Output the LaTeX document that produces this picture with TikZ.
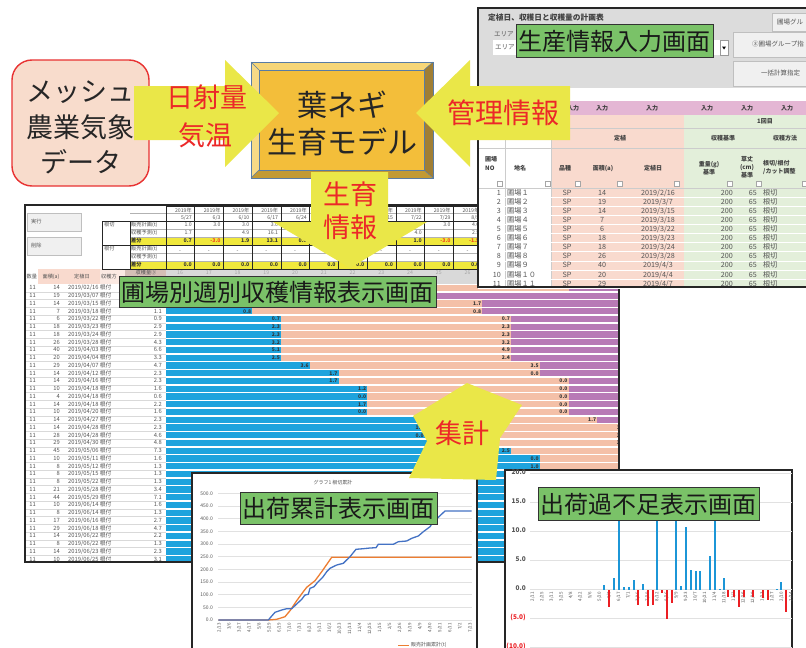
\documentclass[tikz,border=0pt]{standalone}
\usepackage{fontspec}
\setmainfont{Noto Sans CJK JP}
\definecolor{arrowyellow}{RGB}{234,231,72}
\definecolor{labelred}{RGB}{236,40,40}
\definecolor{labelgreen}{RGB}{122,194,104}
\definecolor{peach}{RGB}{248,220,204}
\definecolor{boxred}{RGB}{232,50,50}
\definecolor{goldmid}{RGB}{243,190,58}
\definecolor{goldlight}{RGB}{246,214,120}
\definecolor{golddark}{RGB}{160,126,52}
\definecolor{goldbottom}{RGB}{194,154,52}
\definecolor{bevelblue}{RGB}{88,124,164}
\definecolor{barblue}{RGB}{30,163,221}
\definecolor{barsalmon}{RGB}{244,192,168}
\definecolor{barpurple}{RGB}{184,122,182}
\definecolor{cellyellow}{RGB}{240,232,60}
\definecolor{cellgray}{RGB}{217,217,217}
\definecolor{ingray}{RGB}{220,220,220}
\definecolor{cellpink}{RGB}{249,218,206}
\definecolor{cellgreen}{RGB}{227,239,218}
\definecolor{headmauve}{RGB}{228,182,212}
\definecolor{txtgray}{RGB}{85,85,85}
\definecolor{gridgray}{RGB}{225,225,225}
\definecolor{lineblue}{RGB}{68,114,196}
\definecolor{lineorange}{RGB}{237,125,49}
\definecolor{chartblue}{RGB}{28,150,215}
\definecolor{chartred}{RGB}{235,30,35}
\definecolor{negred}{RGB}{240,70,30}
\begin{document}
\begin{tikzpicture}[x=1pt,y=-1pt,
  scr/.style={draw=black!85, line width=1.1pt},
  glabel/.style={draw=black!80, line width=0.9pt, fill=labelgreen, inner sep=0pt, text=black!90, font=\fontsize{24}{24}\selectfont, anchor=north west},
  redtext/.style={text=labelred, font=\fontsize{27}{27}\selectfont, inner sep=0pt},
  bigtext/.style={text=black!85, font=\fontsize{27}{27}\selectfont, inner sep=0pt},
  cell/.style={font=\fontsize{5.2}{5.2}\selectfont, text=txtgray, inner sep=0pt, text height=4.2pt, text depth=0.6pt},
  cellb/.style={font=\fontsize{5.2}{5.2}\selectfont\bfseries, text=black!80, inner sep=0pt, text height=4.2pt, text depth=0.6pt},
  rowtxt/.style={font=\fontsize{5.8}{5.8}\selectfont, text=txtgray, inner sep=0pt, text height=4.6pt, text depth=0.7pt},
  barlbl/.style={font=\fontsize{5}{5}\selectfont\bfseries, text=black!80, inner sep=0pt, anchor=east, text height=4pt, text depth=0.5pt},
  intxt/.style={font=\fontsize{7.2}{7.2}\selectfont, text=txtgray, inner sep=0pt, text height=5.8pt, text depth=0.9pt},
  inhead/.style={font=\fontsize{6}{6}\selectfont\bfseries, text=black!75, inner sep=0pt, text height=4.8pt, text depth=0.8pt},
  axlbl/.style={font=\fontsize{5}{5}\selectfont, text=txtgray, inner sep=0pt, text height=4pt, text depth=0.6pt},
  btn/.style={fill=black!6, draw=black!25, line width=0.5pt}]
\useasboundingbox (0,0) rectangle (806,648);
\clip (0,0) rectangle (806,648);
\fill[white] (0,0) rectangle (806,648);

%%%%%%%% weekly table screen
\fill[white] (25,205) rectangle (619,562);
\filldraw[btn] (27,213) rectangle (81,231);
\node[cell, anchor=west, name=btnrun] at (31,222) {実行};
\filldraw[btn] (27,237) rectangle (81,255);
\node[cell, anchor=west, name=btndel] at (31,246) {削除};
\fill[cellyellow] (130,237) rectangle (619,245);
\fill[cellyellow] (130,261) rectangle (619,269);
\fill[cellgray] (166,269) rectangle (619,284);
\fill[cellpink] (38,269) rectangle (100,284);
\fill[cellpink!60] (100,269) rectangle (125,284);
\fill[cellpink!70!gray] (125,269) rectangle (166,284);
\foreach \y in {213.5,229,237,253,261} \draw[black!30, line width=0.3pt] (130,\y) -- (619,\y);
\foreach \i in {0,...,16} \draw[black!85, line width=0.8pt] (166+28.75*\i,206) -- (166+28.75*\i,269);
\draw[black!85, line width=0.8pt] (166,206) -- (619,206);
\foreach \y in {221,245,269} \draw[black!85, line width=0.8pt] (102,\y) -- (619,\y);
\draw[black!85, line width=0.8pt] (102,221) -- (102,269);
\draw[black!85, line width=0.8pt] (130,221) -- (130,269);
\node[cell, anchor=west, name=rk1] at (104,225) {根切};
\node[cell, anchor=west, name=rk2] at (104,249) {根付};
\foreach \y/\t [count=\j] in {225/販売計画(t),233/収穫予測(t),249/販売計画(t),257/収穫予測(t)}
  \node[cell, anchor=west, name=rl\j] at (131,\y) {\t};
\node[cellb, anchor=west, name=rd1] at (131,241) {差分};
\node[cellb, anchor=west, name=rd2] at (131,265) {差分};
\foreach \m/\d [count=\i from 0] in {5/27,6/3,6/10,6/17,6/24,7/1,7/8,7/15,7/22,7/29,8/5} {
  \pgfmathtruncatemacro\hide{(\i==5 || \i==6) ? 1 : 0}
  \ifnum\hide=0
  \node[cell, anchor=east, name=yr\i] at (166+28.75*\i+26,210.2) {2019年};
  \node[cell, anchor=east, name=dt\i] at (166+28.75*\i+26,217.5) {\m/\d};
  \fi
}
\foreach \pa/\pb/\pd/\pc [count=\i from 0] in {1.0/1.7/0.7/black!80, 3.0//-3.0/negred, 3.0/4.9/1.9/black!80, 3.0/16.1/13.1/black!80, 3.0/3.6/0.6/black!80, 3.0/4.2/1.2/black!80, 3.0/5.1/2.1/black!80, 3.0/1.5/-1.5/negred, 3.0/4.0/1.0/black!80, 3.0//-3.0/negred, 4.0/2.5/-1.5/negred} {
  \pgfmathtruncatemacro\hide{(\i>=4 && \i<=7) ? 1 : 0}
  \ifnum\hide=0
  \node[cell, anchor=east, name=pa\i] at (166+28.75*\i+26,225) {\pa};
  \node[cell, anchor=east, name=pb\i] at (166+28.75*\i+26,233) {\pb};
  \fi
  \pgfmathtruncatemacro\hidd{(\i>=5 && \i<=6) ? 1 : 0}
  \ifnum\hidd=0
  \node[cellb, anchor=east, text=\pc, name=pd\i] at (166+28.75*\i+26,241) {\pd};
  \node[cell, name=pm\i] at (166+28.75*\i+14,250.5) {-};
  \fi
  \node[cellb, anchor=east, name=pz\i] at (166+28.75*\i+26,265) {0.0};
  \node[cell, text=black!35, name=wk\i] at (166+28.75*\i+14,272.5) {\the\numexpr16+\i\relax};
}
\node[cell, anchor=west, name=hq] at (26.5,277) {数量};
\node[cell, name=ha] at (51,277) {面積(a)};
\node[cell, name=hd] at (82,277) {定植日};
\node[cell, anchor=west, name=hm] at (101,277) {収穫方};
\node[cell, name=hy] at (146,272.5) {収穫量③};
% left data rows
\begin{scope}
\clip (25,284) rectangle (619,562);
\foreach \ar/\mo/\dy/\v [count=\k from 0] in {14/02/16/,19/03/07/,14/03/15/,7/03/18/1.1,6/03/22/0.9,18/03/23/2.9,18/03/24/2.9,26/03/28/4.3,40/04/03/6.6,20/04/04/3.3,29/04/07/4.7,14/04/12/2.3,14/04/16/2.3,10/04/18/1.6,4/04/18/0.6,14/04/18/2.2,10/04/20/1.6,14/04/27/2.3,14/04/28/2.3,28/04/28/4.6,29/04/30/4.8,45/05/06/7.3,10/05/11/1.6,8/05/12/1.3,8/05/15/1.3,8/05/22/1.3,21/05/28/3.4,44/05/29/7.1,10/06/14/1.6,8/06/14/1.3,17/06/16/2.7,29/06/18/4.7,14/06/22/2.2,8/06/22/1.3,14/06/23/2.3,10/06/25/3.1} {
  \node[rowtxt, name=rn\k] at (32.5,288+7.75*\k) {11};
  \node[rowtxt, anchor=east, name=ra\k] at (60,288+7.75*\k) {\ar};
  \node[rowtxt, anchor=west, name=rdt\k] at (68,288+7.75*\k) {2019/\mo/\dy\ 根付};
  \node[rowtxt, anchor=east, name=rv\k] at (162,288+7.75*\k) {\v};
  \draw[black!15, line width=0.4pt] (25,288+7.75*\k+3.9) -- (166,288+7.75*\k+3.9);
}
\foreach \b/\s [count=\k from 0] in {9/14,8/9,3/11,3/11,4/12,4/12,4/12,4/12,4/12,4/12,5/13,6/13,6/14,7/14,7/14,7/14,7/14,9/15,9/16,9/16,10/16,12/17,13/17,13/17,17/17,17/17,17/17,17/17,17/17,17/17,17/17,17/17,17/17,17/17,17/17,17/17} {
  \fill[barblue] (166,288+7.75*\k-3.2) rectangle (166+28.75*\b,288+7.75*\k+3.2);
  \fill[barsalmon] (166+28.75*\b,288+7.75*\k-3.2) rectangle (166+28.75*\s,288+7.75*\k+3.2);
  \fill[barpurple] (166+28.75*\s,288+7.75*\k-3.2) rectangle (619,288+7.75*\k+3.2);
}
\foreach \k/\c/\t [count=\n] in {3/3/0.8,4/4/0.7,5/4/2.3,6/4/2.3,7/4/3.2,8/4/5.1,9/4/2.5,10/5/3.6,11/6/1.7,12/6/1.7,13/7/1.2,14/7/0.0,15/7/1.7,16/7/0.0,17/9/0.8,18/9/1.7,19/9/0.0,21/12/2.5,22/13/0.0,23/13/1.0,0/14/2.5,2/11/1.7,3/11/0.8,4/12/0.7,5/12/2.3,6/12/2.3,7/12/3.2,8/12/4.9,9/12/2.4,10/13/3.5,11/13/0.0,12/14/0.0,13/14/0.0,14/14/0.0,15/14/0.0,16/14/0.0,17/15/1.7,18/16/1.8,19/16/3.2,20/16/3.3}
  \node[barlbl, name=bl\n] at (166+28.75*\c-1,288+7.75*\k) {\t};
\end{scope}
\draw[scr] (25,205) rectangle (619,562);
\node[glabel, minimum width=317pt, minimum height=31pt, name=lblweek] at (119,276) {圃場別週別収穫情報表示画面};

%%%%%%%% input screen
\fill[white] (478,8) rectangle (812,287);
\fill[ingray] (478,8) rectangle (812,88);
\node[inhead, anchor=west, font=\fontsize{7.7}{7.7}\selectfont\bfseries, name=intitle] at (488,18) {定植日、収穫日と収穫量の計画表};
\node[intxt, anchor=west, font=\fontsize{6.5}{6.5}\selectfont, name=inarea] at (494,34) {エリア};
\fill[white] (493,40) rectangle (722,55);
\node[intxt, anchor=west, font=\fontsize{6.5}{6.5}\selectfont, name=inarea2] at (495,47.5) {エリア};
\filldraw[fill=white, draw=black!40, line width=0.4pt] (720,40) rectangle (728,55);
\fill[black] (722,46.5) -- (726,46.5) -- (724,49.5) -- cycle;
\filldraw[btn] (772,13) rectangle (812,31);
\node[intxt, anchor=west, font=\fontsize{6.5}{6.5}\selectfont, name=inb1] at (777,22) {圃場グル};
\filldraw[btn] (733,32) rectangle (812,57);
\node[intxt, anchor=west, font=\fontsize{6.5}{6.5}\selectfont, name=inb2] at (752,44.5) {③圃場グループ指};
\filldraw[btn] (733,61) rectangle (812,86);
\node[intxt, anchor=west, font=\fontsize{6.5}{6.5}\selectfont, name=inb3] at (761,73.5) {一括計算指定};
\fill[headmauve] (478,101) rectangle (812,115);
\fill[cellpink] (551,115) rectangle (684,287);
\fill[cellgreen] (684,115) rectangle (812,287);
\foreach \x [count=\i] in {573,602,652,707,747,787}
  \node[inhead, name=inin\i] at (\x,108) {入力};
\node[inhead, name=in1st] at (765,121.7) {1回目};
\node[inhead, name=inplant] at (620,138) {定植};
\node[inhead, name=inhb] at (723,138) {収穫基準};
\node[inhead, name=inhm] at (785,138) {収穫方法};
\foreach \y in {128.5,148,188} \draw[black!20, line width=0.5pt] (478,\y) -- (812,\y);
\draw[black!20, line width=0.5pt] (505,129) -- (505,287);
\draw[black!20, line width=0.5pt] (551,115) -- (551,287);
\node[inhead, anchor=west, name=inh1] at (485,159) {圃場};
\node[inhead, anchor=west, name=inh1b] at (485,168) {NO};
\node[inhead, name=inh2] at (520,168) {地名};
\node[inhead, name=inh3] at (565,168) {品種};
\node[inhead, name=inh4] at (603,168) {面積(a)};
\node[inhead, name=inh5] at (653,168) {定植日};
\node[inhead, name=inh6] at (709,164) {重量(g)};
\node[inhead, name=inh6b] at (709,172) {基準};
\node[inhead, name=inh7] at (747,159) {草丈};
\node[inhead, name=inh7b] at (747,167) {(cm)};
\node[inhead, name=inh7c] at (747,175) {基準};
\node[inhead, anchor=west, name=inh8] at (763,163) {根切/根付};
\node[inhead, anchor=west, name=inh8b] at (763,171) {/カット調整};
\foreach \x in {500,548,578,620,677,730,759,805}
  \filldraw[fill=white, draw=black!35, line width=0.3pt] (\x-2.5,181) rectangle (\x+2.5,186);
\foreach \no/\nm/\ar/\mo/\dy [count=\r from 0] in {1/１/14/2/16,2/２/19/3/7,3/３/14/3/15,4/４/7/3/18,5/５/6/3/22,6/６/18/3/23,7/７/18/3/24,8/８/26/3/28,9/９/40/4/3,10/１０/20/4/4,11/１１/29/4/7} {
  \node[intxt, anchor=east, name=ino\r] at (501,192.7+9.1*\r) {\no};
  \node[intxt, anchor=west, name=inm\r] at (507,192.7+9.1*\r) {圃場\nm};
  \node[intxt, name=ins\r] at (567,192.7+9.1*\r) {SP};
  \node[intxt, name=ina\r] at (602,192.7+9.1*\r) {\ar};
  \node[intxt, name=ind\r] at (658,192.7+9.1*\r) {2019/\mo/\dy};
  \node[intxt, anchor=east, name=inw\r] at (733,192.7+9.1*\r) {200};
  \node[intxt, anchor=east, name=inl\r] at (757,192.7+9.1*\r) {65};
  \node[intxt, anchor=west, name=inc\r] at (763,192.7+9.1*\r) {根切};
  \draw[white, line width=0.8pt] (478,192.7+9.1*\r+4.55) -- (812,192.7+9.1*\r+4.55);
}
\draw[scr] (478,8) rectangle (812,287);
\node[glabel, minimum width=197pt, minimum height=33pt, name=lblinput] at (516,24) {生産情報入力画面};

%%%%%%%% cumulative chart (left)
\filldraw[fill=white, draw=black!85, line width=1.1pt] (192,473) rectangle (477,660);
\node[axlbl, name=c1title] at (333,483) {グラフ1 根切累計};
\foreach \v [count=\i from 0] in {500.0,450.0,400.0,350.0,300.0,250.0,200.0,150.0,100.0,50.0,0.0} {
  \draw[gridgray, line width=0.5pt] (218,493.3+12.67*\i) -- (472,493.3+12.67*\i);
  \node[axlbl, anchor=east, name=c1y\i] at (213,493.3+12.67*\i) {\v};
}
\foreach \m/\d [count=\i from 0] in {2/13,3/6,3/27,4/17,5/8,5/29,6/19,7/10,7/31,8/21,9/11,10/2,10/23,11/13,12/4,12/25,1/15,2/5,2/26,3/19,4/9,4/30,5/21,6/11,7/2,7/23}
  \node[axlbl, rotate=90, anchor=east, font=\fontsize{4.5}{4.5}\selectfont, text height=3.5pt, text depth=0.5pt, name=c1x\i] at (219+10.04*\i,623) {\m/\d};
\draw[lineorange, line width=1.3pt] plot coordinates {(218.3,620) (268.3,620) (276.7,619.3) (285,616.7) (290,610.7) (296.7,600.7) (303.3,591.7) (306.7,587.3) (315,580.7) (321.7,571.7) (331.7,557.3) (471.7,557.3)};
\draw[lineblue, line width=1.3pt] plot coordinates {(218.3,620) (268.3,620) (275,612.3) (281.7,610) (286.7,608.7) (291.7,608.7) (296.7,604) (301.7,599.3) (305,595) (308.3,594.3) (310,588.3) (314,586.7) (317.3,582.7) (322.7,577.3) (326.7,571.7) (330,568.3) (336.7,565) (343.3,563.3) (350,556.7) (356,549.3) (363.3,548.7) (370,548) (376,547.7) (378.3,544.3) (393.3,544.3) (398.3,541.7) (406.7,541) (411.7,538.3) (418.3,536) (423.3,531.7) (430,526.7) (433.3,521.7) (438.3,517.3) (445,511) (471.7,511)};
\draw[lineorange, line width=1.3pt] (398,645.5) -- (409,645.5);
\node[axlbl, anchor=west, name=c1leg] at (411,645) {販売計画累計(t)};
\node[glabel, minimum width=197pt, minimum height=32pt, name=lblcum] at (240,492) {出荷累計表示画面};

%%%%%%%% surplus chart (right)
\filldraw[fill=white, draw=black!85, line width=1.1pt] (505,470) rectangle (792,660);
\foreach \v/\c [count=\i from 0] in {20.0/txtgray,15.0/txtgray,10.0/txtgray,5.0/txtgray,0.0/txtgray,(5.0)/chartred,(10.0)/chartred} {
  \draw[gridgray, line width=0.5pt] (530,473+29*\i) -- (792,473+29*\i);
  \node[axlbl, anchor=east, font=\fontsize{6.5}{6.5}\selectfont\bfseries, text=\c, name=c2y\i] at (526,473+29*\i) {\v};
}
\foreach \m/\d [count=\i from 0] in {2/11,2/25,3/11,3/25,4/8,4/22,5/6,5/20,6/3,6/17,7/1,7/15,7/29,8/12,8/26,9/9,9/23,10/7,10/21,11/4,11/18,12/2,12/16,12/30,1/13,1/27,2/10,2/24}
  \node[axlbl, rotate=90, anchor=east, font=\fontsize{4.5}{4.5}\selectfont, text height=3.5pt, text depth=0.5pt, name=c2x\i] at (532.3+9.58*\i,592) {\m/\d};
\foreach \X/\v in {373/0.8,402/2.0,417/14,432/0.5,446/0.4,461/1.6,489/1.0,532/14,589/14,604/0.6,618/10.8,632/3.4,647/3.2,661/3.2,690/5.7,704/11.8,719/0.15,733/2.0,890/0.2,904/1.3}
  \fill[chartblue] (480+\X/3-1,589.7) rectangle (480+\X/3+1,589.7-5.85*\v);
\foreach \X/\v in {388/3.0,475/2.6,504/2.7,518/2.6,547/0.5,561/5.0,575/2.2,745/1.2,762/1.2,776/2.9,791/1.2,820/1.3,848/1.4,863/1.8,919/3.8}
  \fill[chartred] (480+\X/3-1,589.7) rectangle (480+\X/3+1,589.7+5.85*\v);
\node[glabel, minimum width=221pt, minimum height=33pt, name=lblsurp] at (538,487) {出荷過不足表示画面};

%%%%%%%% aggregation arrow
\fill[arrowyellow] (467,383) -- (522,405) -- (500,438) -- (496,480) -- (409,478) -- (427,441) -- (413,416) -- cycle;
\node[redtext, name=txtsum] at (462,433) {集計};

%%%%%%%% top: weather data box
\filldraw[fill=peach, draw=boxred, line width=1.4pt, rounded corners=20pt] (12,60) rectangle (149,186);
\node[bigtext, name=mesh1] at (80.5,92) {メッシュ};
\node[bigtext, name=mesh2] at (80.5,127) {農業気象};
\node[bigtext, name=mesh3] at (80.5,162) {データ};

% gold model box
\fill[goldmid] (259,70) rectangle (424,170);
\fill[goldlight] (251,62) -- (433,62) -- (424,70) -- (259,70) -- cycle;
\fill[goldlight!90!white] (251,62) -- (259,70) -- (259,170) -- (251,178) -- cycle;
\fill[golddark] (433,62) -- (433,178) -- (424,170) -- (424,70) -- cycle;
\fill[goldbottom] (251,178) -- (433,178) -- (424,170) -- (259,170) -- cycle;
\draw[bevelblue, line width=0.6pt] (251,62) rectangle (433,178);
\draw[bevelblue, line width=0.5pt] (259,70) rectangle (424,170);
\draw[bevelblue, line width=0.5pt] (251,62) -- (259,70) (433,62) -- (424,70) (251,178) -- (259,170) (433,178) -- (424,170);

% arrows
\fill[arrowyellow] (134,86) -- (225,86) -- (225,60) -- (279,113) -- (225,167) -- (225,140) -- (134,140) -- cycle;
\fill[arrowyellow] (570,86) -- (470,86) -- (470,60) -- (416,113) -- (470,167) -- (470,140) -- (570,140) -- cycle;
\fill[arrowyellow] (311,172) -- (388,172) -- (388,222) -- (427,222) -- (350,268) -- (273,222) -- (311,222) -- cycle;

\node[bigtext, font=\fontsize{30}{30}\selectfont, name=model1] at (342,105) {葉ネギ};
\node[bigtext, font=\fontsize{30}{30}\selectfont, name=model2] at (342,142) {生育モデル};
\node[redtext, name=sun] at (207,97) {日射量};
\node[redtext, name=temp] at (205,135) {気温};
\node[redtext, font=\fontsize{28}{28}\selectfont, name=mgmt] at (503,113) {管理情報};
\node[redtext, name=grow1] at (350,194) {生育};
\node[redtext, name=grow2] at (350,227) {情報};
\end{tikzpicture}
\end{document}
